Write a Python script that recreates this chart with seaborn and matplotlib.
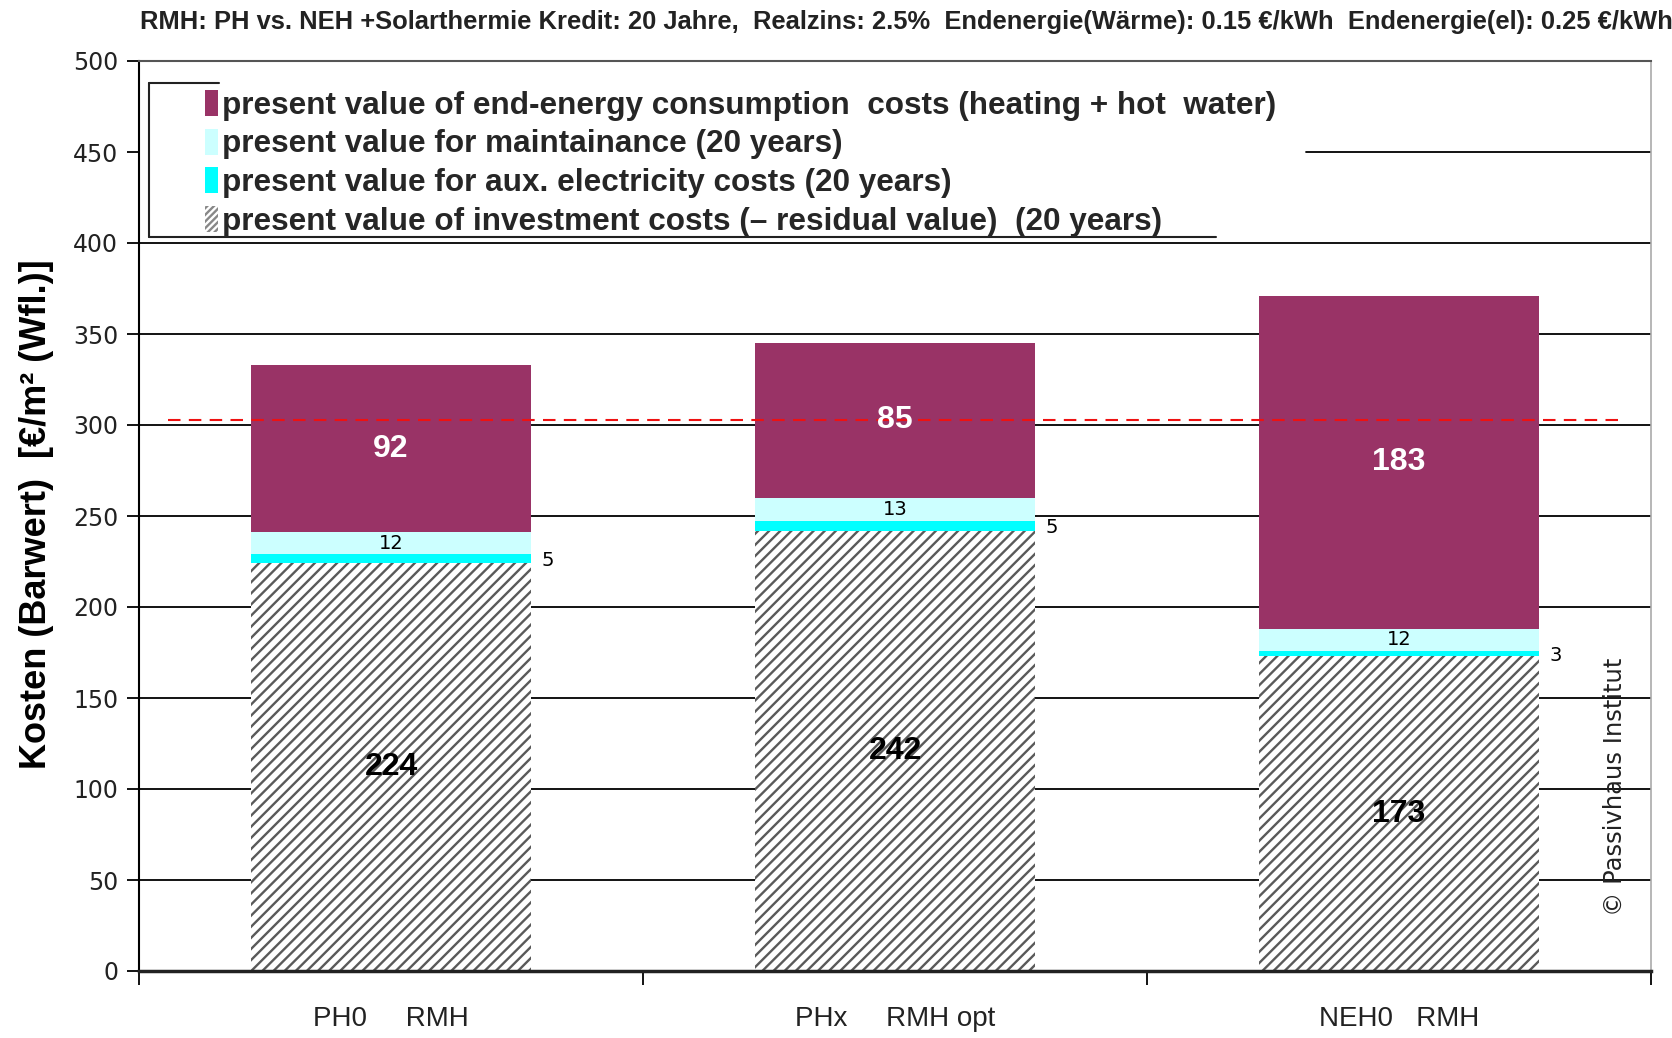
import matplotlib
matplotlib.use("Agg")
import matplotlib.pyplot as plt
import seaborn as sns
import pandas as pd
from matplotlib.patches import Patch
from matplotlib.lines import Line2D
from matplotlib import font_manager

# ---------------- data ----------------
categories = ["PH0     RMH", "PHx     RMH opt", "NEH0   RMH"]
investment = [224, 242, 173]
aux_electricity = [5, 5, 3]
maintenance = [12, 13, 12]
energy = [92, 85, 183]
reference_line = 303
yticks = [0, 50, 100, 150, 200, 250, 300, 350, 400, 450, 500]
title = ("RMH: PH vs. NEH +Solarthermie Kredit: 20 Jahre,  Realzins: 2.5%  "
         "Endenergie(Wärme): 0.15 €/kWh  Endenergie(el): 0.25 €/kWh")
ylabel = "Kosten (Barwert)  [€/m² (Wfl.)]"
legend_labels = [
    "present value of end-energy consumption  costs (heating + hot  water)",
    "present value for maintainance (20 years)",
    "present value for aux. electricity costs (20 years)",
    "present value of investment costs (– residual value)  (20 years)",
]
copyright_text = "© Passivhaus Institut"

# ---------------- style ----------------
sns.set_theme(style="white")
names = {f.name for f in font_manager.fontManager.ttflist}
narrow = "Liberation Sans Narrow" if "Liberation Sans Narrow" in names else "Liberation Sans"
plt.rcParams["font.family"] = ["DejaVu Sans"]
plt.rcParams["hatch.linewidth"] = 1.7

C_ENERGY = "#993366"
C_MAINT = "#CCFFFF"
C_AUX = "#00FFFF"
C_HATCH = "#5a5a5a"

fig = plt.figure(figsize=(16.72, 10.38), dpi=100)
ax = fig.add_axes([139 / 1672, 1 - 971 / 1038, (1651 - 139) / 1672, (971 - 61) / 1038])

df = pd.DataFrame({"cat": categories, "inv": investment, "aux": aux_electricity,
                   "maint": maintenance, "energy": energy})
df["c1"] = df["inv"]
df["c2"] = df["c1"] + df["aux"]
df["c3"] = df["c2"] + df["maint"]
df["c4"] = df["c3"] + df["energy"]

W = 0.557
common = dict(data=df, x="cat", order=categories, width=W, saturation=1, ax=ax,
              linewidth=0, zorder=3, errorbar=None)
sns.barplot(y="c4", color=C_ENERGY, edgecolor="none", **common)
sns.barplot(y="c3", color=C_MAINT, edgecolor="none", **common)
sns.barplot(y="c2", color=C_AUX, edgecolor="none", **common)
sns.barplot(y="c1", color="white", edgecolor=C_HATCH, hatch="///", **common)

ax.set_xlim(-0.5, 2.5)
ax.set_ylim(0, 500)

# gridlines
for t in yticks:
    if t in (0, 500):
        continue
    xmin = 0.772 if t == 450 else 0
    ax.axhline(t, xmin=xmin, color="black", lw=1.3, zorder=1)

# reference line
ax.hlines(reference_line, -0.443, 2.436, colors="#ee1111", linestyles=(0, (6, 4)),
          lw=1.5, zorder=4)

# spines
for s in ax.spines.values():
    s.set_visible(True)
ax.spines["left"].set_color("black"); ax.spines["left"].set_linewidth(1.5)
ax.spines["bottom"].set_color("#222222"); ax.spines["bottom"].set_linewidth(2.5)
ax.spines["top"].set_color("#555555"); ax.spines["top"].set_linewidth(1.5)
ax.spines["right"].set_color("#aaaaaa"); ax.spines["right"].set_linewidth(1.2)
ax.spines["bottom"].set_zorder(5)

# ticks
ax.set_yticks(yticks)
ax.set_yticklabels([str(t) for t in yticks], fontsize=17, color="#222222")
ax.tick_params(axis="y", direction="out", length=9, width=1.3, color="black",
               left=True, pad=6)
ax.set_xticks([0, 1, 2])
ax.set_xticklabels(categories, fontsize=20, family=narrow, color="#222222")
ax.tick_params(axis="x", which="major", length=0, pad=25)
ax.set_xticks([-0.5, 0.5, 1.5, 2.5], minor=True)
ax.tick_params(axis="x", which="minor", direction="out", length=10, width=1.3,
               color="black", bottom=True)
ax.set_xlabel("")

ax.set_ylabel(ylabel, fontsize=26, fontweight="bold", family=narrow, color="black")
ax.yaxis.set_label_coords(-0.056, 0.502)

# value labels
for i in range(len(categories)):
    ax.text(i, investment[i] / 2, str(investment[i]), ha="center", va="center",
            fontsize=23, fontweight="bold", family=narrow, color="black", zorder=6)
    ax.text(i, df["c3"][i] + energy[i] / 2, str(energy[i]), ha="center", va="center",
            fontsize=23, fontweight="bold", family=narrow, color="white", zorder=6)
    ax.text(i, df["c2"][i] + maintenance[i] / 2, str(maintenance[i]), ha="center",
            va="center", fontsize=14, color="black", zorder=6)
    ax.text(i + W / 2 + 0.02, df["c1"][i] + aux_electricity[i] / 2 - 1,
            str(aux_electricity[i]), ha="left", va="center", fontsize=14,
            color="black", zorder=6)

# legend
handles = [
    Patch(facecolor=C_ENERGY, edgecolor="none"),
    Patch(facecolor=C_MAINT, edgecolor="none"),
    Patch(facecolor=C_AUX, edgecolor="none"),
    Patch(facecolor="white", edgecolor="#888888", hatch="/////", linewidth=0),
]
leg = fig.legend(handles, legend_labels, loc="upper left",
                 bbox_to_anchor=(205 / 1672, 1 - 90 / 1038), frameon=False,
                 prop={"family": narrow, "weight": "bold", "size": 22.7},
                 handlelength=0.42, handleheight=0.9, handletextpad=0.12,
                 labelspacing=0.24, borderpad=0, borderaxespad=0)

# partial legend border
for (x0, y0, x1, y1) in [(149, 83, 219, 83), (149, 83, 149, 237), (149, 237, 1216, 237)]:
    fig.add_artist(Line2D([x0 / 1672, x1 / 1672], [1 - y0 / 1038, 1 - y1 / 1038],
                          transform=fig.transFigure, color="#222222", lw=1.5))

# title and copyright
fig.text(140 / 1672, 1 - 22 / 1038, title, ha="left", va="center", fontsize=18.4,
         fontweight="bold", family=narrow, color="#222222")
fig.text(1615 / 1672, 1 - 787 / 1038, copyright_text, rotation=90, ha="center",
         va="center", fontsize=17.5, color="#222222")

fig.savefig("out.png", dpi=100)
